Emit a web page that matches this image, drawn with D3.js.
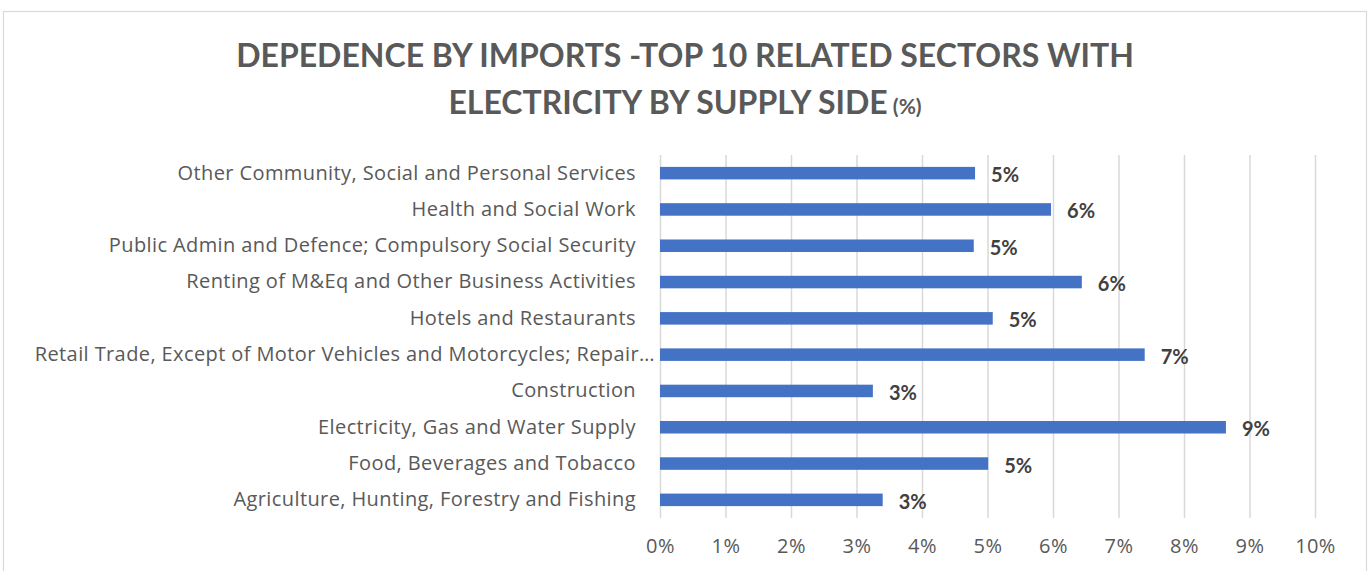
<!DOCTYPE html>
<html>
<head>
<meta charset="utf-8">
<script src="https://cdn.jsdelivr.net/npm/d3@7"></script>
<style>
  body { margin: 0; background: #fff; }
  svg { display: block; font-family: Lato, "Open Sans", sans-serif; }
</style>
</head>
<body>
<svg id="chart" width="1371" height="571"></svg>
<script>
// Sectors, listed top to bottom as they appear on the chart
const sectors = [
  "Other Community, Social and Personal Services",
  "Health and Social Work",
  "Public Admin and Defence; Compulsory Social Security",
  "Renting of M&Eq and Other Business Activities",
  "Hotels and Restaurants",
  "Retail Trade, Except of Motor Vehicles and Motorcycles; Repair…",
  "Construction",
  "Electricity, Gas and Water Supply",
  "Food, Beverages and Tobacco",
  "Agriculture, Hunting, Forestry and Fishing"
];

// Import dependence share for each sector
const shares = [0.0481, 0.0597, 0.0479, 0.0644, 0.0508, 0.0740, 0.0325, 0.0864, 0.0501, 0.0340];

// X axis ticks
const xTicks = [0, 0.01, 0.02, 0.03, 0.04, 0.05, 0.06, 0.07, 0.08, 0.09, 0.10];

const titleLine1 = "DEPEDENCE BY IMPORTS -TOP 10 RELATED SECTORS WITH";
const titleLine2 = "ELECTRICITY BY SUPPLY SIDE";
const titleUnit = "(%)";

const data = sectors.map((s, i) => ({ sector: s, value: shares[i] }));

const svg = d3.select("#chart");
const W = 1371, H = 571;
const margin = { top: 155, right: 56, bottom: 53, left: 660 };
const innerW = W - margin.left - margin.right;
const innerH = H - margin.top - margin.bottom;
const labelFont = "'Open Sans', sans-serif";

// Chart frame
svg.append("rect")
  .attr("x", 3.5).attr("y", 11.5)
  .attr("width", 1363).attr("height", 580)
  .attr("fill", "#fff")
  .attr("stroke", "#d9d9d9")
  .attr("stroke-width", 1.2);

// Title
const title = svg.append("text")
  .attr("text-anchor", "middle")
  .attr("fill", "#595959")
  .attr("font-weight", "bold");
title.append("tspan")
  .attr("x", 685).attr("y", 67)
  .attr("font-size", 32)
  .text(titleLine1);
title.append("tspan")
  .attr("x", 685).attr("y", 114)
  .attr("font-size", 32)
  .text(titleLine2);
title.append("tspan")
  .attr("font-size", 21)
  .text(" " + titleUnit);

const x = d3.scaleLinear().domain([0, 0.10]).range([0, innerW]);
const y = d3.scaleBand().domain(sectors).range([0, innerH]).paddingInner(0.655).paddingOuter(0.3275);

const g = svg.append("g").attr("transform", `translate(${margin.left},${margin.top})`);

// Vertical gridlines
g.append("g")
  .attr("class", "grid")
  .call(d3.axisBottom(x).tickValues(xTicks).tickSize(innerH).tickFormat(""))
  .call(a => a.select(".domain").remove())
  .call(a => a.selectAll("line").attr("stroke", "#d9d9d9").attr("stroke-width", 1.5));

// X axis labels
g.append("g")
  .attr("transform", `translate(0,${innerH})`)
  .call(d3.axisBottom(x).tickValues(xTicks).tickSize(0).tickPadding(21).tickFormat(d3.format(".0%")))
  .call(a => a.select(".domain").remove())
  .call(a => a.selectAll("text")
    .attr("fill", "#595959")
    .attr("font-size", 20)
    .attr("letter-spacing", 0.4)
    .attr("font-family", labelFont));

// Category labels
g.append("g")
  .call(d3.axisLeft(y).tickSize(0).tickPadding(24))
  .call(a => a.select(".domain").remove())
  .call(a => a.selectAll("text")
    .attr("fill", "#595959")
    .attr("font-size", 20)
    .attr("letter-spacing", 0.4)
    .attr("font-family", labelFont)
    .attr("dx", d => d.endsWith("…") ? 19 : 0));

// Bars
g.selectAll("rect.bar")
  .data(data)
  .join("rect")
  .attr("class", "bar")
  .attr("x", 0)
  .attr("y", d => y(d.sector))
  .attr("width", d => x(d.value))
  .attr("height", y.bandwidth())
  .attr("fill", "#4472C4");

// Value labels
g.selectAll("text.value")
  .data(data)
  .join("text")
  .attr("class", "value")
  .attr("x", d => x(d.value) + 16)
  .attr("y", d => y(d.sector) + y.bandwidth() / 2)
  .attr("dy", "0.45em")
  .attr("fill", "#404040")
  .attr("font-weight", "bold")
  .attr("font-size", 20)
  .text(d => d3.format(".0%")(d.value));
</script>
</body>
</html>
